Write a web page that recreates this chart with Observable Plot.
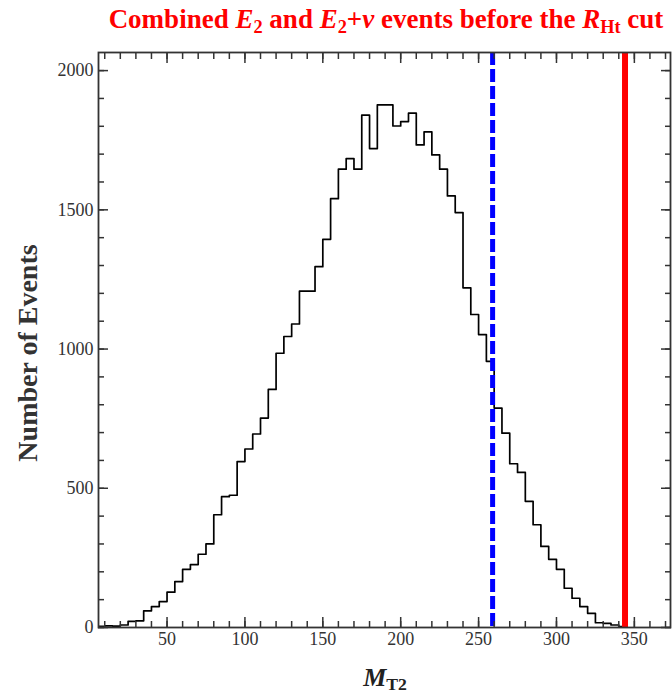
<!DOCTYPE html>
<html>
<head>
<meta charset="utf-8">
<script src="https://cdn.jsdelivr.net/npm/d3@7"></script>
<script src="https://cdn.jsdelivr.net/npm/@observablehq/plot@0.6"></script>
<style>
  body { margin: 0; background: #fff; }
  #wrap { position: relative; width: 672px; height: 700px; overflow: hidden; }
  #title { position: absolute; top: 4px; left: 0; width: 772px; text-align: center;
    font-family: "Liberation Serif", serif; font-weight: bold; font-size: 27px; color: #ff0000; white-space: nowrap; }
  #xlabel { position: absolute; top: 663px; left: 0; width: 770px; text-align: center; line-height: 30px;
    font-family: "Liberation Serif", serif; font-weight: bold; font-size: 26px; color: #222; }
  sub { font-size: 0.68em; vertical-align: -0.25em; font-style: normal; }
</style>
</head>
<body>
<div id="wrap">
  <div id="title">Combined <i>E</i><sub>2</sub> and <i>E</i><sub>2</sub>+<i>ν</i> events before the <i>R</i><sub>Ht</sub> cut</div>
  <div id="chart"></div>
  <div id="xlabel"><i>M</i><sub>T2</sub></div>
</div>
<script>
// Histogram bins (left edge of each bin) and counts
const binStarts = [5,10,15,20,25,30,35,40,45,50,55,60,65,70,75,80,85,90,95,100,
  105,110,115,120,125,130,135,140,145,150,155,160,165,170,175,180,185,190,195,200,
  205,210,215,220,225,230,235,240,245,250,255,260,265,270,275,280,285,290,295,300,
  305,310,315,320,325,330,335,340];
const counts = [4,6,5,9,22,24,60,75,93,127,165,209,226,263,300,405,470,475,596,641,
  695,752,855,985,1045,1090,1208,1208,1296,1394,1540,1646,1684,1646,1840,1720,1877,1877,1801,1817,
  1847,1733,1780,1697,1646,1550,1490,1220,1124,1052,956,788,698,588,557,453,369,291,245,209,
  141,105,75,51,17,15,9,3];
const binWidth = 5;

// Cut lines
const cutBlue = [259];
const cutRed = [344];

// Ticks
const xMajor = [50,100,150,200,250,300,350];
const xMinor = d3.range(10, 371, 10);
const yMajor = [0,500,1000,1500,2000];
const yMinor = d3.range(0, 2001, 100);

const steps = binStarts.map((x, i) => ({x, y: counts[i]}))
  .concat([{x: binStarts[binStarts.length - 1] + binWidth, y: 0}]);

const tickStyle = {stroke: "#333", strokeWidth: 1.5, label: null};
const noText = () => "";
const plain = d => String(d);

const chart = Plot.plot({
  width: 672,
  height: 700,
  marginTop: 52,
  marginBottom: 73,
  marginLeft: 98,
  marginRight: 2,
  x: {domain: [6, 373.2]},
  y: {domain: [0, 2065]},
  style: {fontFamily: "Liberation Serif", fontSize: "18px", color: "#333", background: "transparent"},
  marks: [
    Plot.line(steps, {x: "x", y: "y", curve: "step-after", stroke: "#000", strokeWidth: 1.7, clip: true}),
    Plot.ruleX(cutBlue, {stroke: "#0000ff", strokeWidth: 5, strokeDasharray: "13,4"}),
    Plot.ruleX(cutRed, {stroke: "#ff0000", strokeWidth: 6}),
    // bottom axis
    Plot.axisX({ticks: xMajor, anchor: "bottom", tickSize: -10, tickPadding: 15, tickFormat: plain, ...tickStyle}),
    Plot.axisX({ticks: xMinor, anchor: "bottom", tickSize: -6, tickFormat: noText, ...tickStyle}),
    // top axis
    Plot.axisX({ticks: xMajor, anchor: "top", tickSize: -10, tickFormat: noText, ...tickStyle}),
    Plot.axisX({ticks: xMinor, anchor: "top", tickSize: -6, tickFormat: noText, ...tickStyle}),
    // left axis
    Plot.axisY({ticks: yMajor, anchor: "left", tickSize: -10, tickPadding: 15, tickFormat: plain, ...tickStyle}),
    Plot.axisY({ticks: yMinor, anchor: "left", tickSize: -6, tickFormat: noText, ...tickStyle}),
    // right axis
    Plot.axisY({ticks: yMajor, anchor: "right", tickSize: -10, tickFormat: noText, ...tickStyle}),
    Plot.axisY({ticks: yMinor, anchor: "right", tickSize: -6, tickFormat: noText, ...tickStyle}),
    Plot.frame({stroke: "#333", strokeWidth: 1.8}),
    Plot.text(["Number of Events"], {text: d => d, frameAnchor: "left", textAnchor: "middle",
      dx: -70, dy: 13, rotate: -90, fontSize: 28, fontWeight: "bold", fill: "#333"})
  ]
});
chart.style.position = "absolute";
chart.style.top = "0px";
chart.style.left = "0px";
document.getElementById("chart").append(chart);
</script>
</body>
</html>
